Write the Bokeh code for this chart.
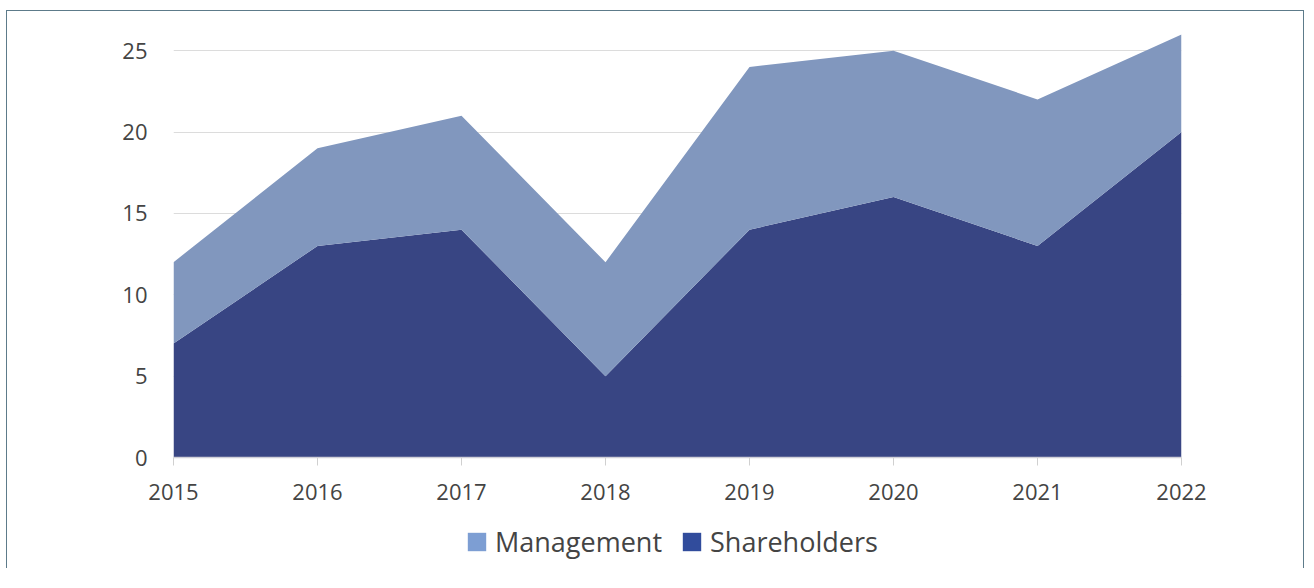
from bokeh.plotting import figure
from bokeh.layouts import column
from bokeh.models import Range1d, Legend, LegendItem, FixedTicker
from bokeh.embed import file_html
from bokeh.resources import INLINE
import numpy as np

years = [2015, 2016, 2017, 2018, 2019, 2020, 2021, 2022]
shareholders = [7, 13, 14, 5, 14, 16, 13, 20]
management = [5, 6, 7, 7, 10, 9, 9, 6]
y_ticks = [0, 5, 10, 15, 20, 25]
series_names = ["Management", "Shareholders"]
legend_colors = ["#7d9ed3", "#314c9c"]

sh = np.array(shareholders, dtype=float)
tot = sh + np.array(management, dtype=float)

FONT = "Open Sans"
p = figure(width=1296, height=504, output_backend="svg", toolbar_location=None,
           x_range=Range1d(2015, 2022), y_range=Range1d(0, 26.3),
           min_border_left=166, min_border_right=122, min_border_top=18, min_border_bottom=58)
p.outline_line_color = None
p.background_fill_color = "white"

p.varea(x=years, y1=0, y2=sh, fill_color="#384583", fill_alpha=1.0)
p.varea(x=years, y1=sh, y2=tot, fill_color="#8197be", fill_alpha=1.0)

p.xgrid.grid_line_color = None
p.ygrid.grid_line_color = "#dcdcdc"
p.ygrid.grid_line_width = 1
p.ygrid.ticker = FixedTicker(ticks=y_ticks)

p.xaxis.ticker = FixedTicker(ticks=years)
p.xaxis.axis_line_color = "#d0d0d8"
p.xaxis.axis_line_width = 1.5
p.xaxis.major_tick_line_color = "#d0d0d0"
p.xaxis.major_tick_out = 8
p.xaxis.major_tick_in = 0
p.xaxis.minor_tick_line_color = None
p.xaxis.major_label_text_font = FONT
p.xaxis.major_label_text_font_size = "22px"
p.xaxis.major_label_text_color = "#444444"
p.xaxis.major_label_standoff = 18

p.yaxis.ticker = FixedTicker(ticks=y_ticks)
p.yaxis.axis_line_color = None
p.yaxis.major_tick_line_color = None
p.yaxis.minor_tick_line_color = None
p.yaxis.major_label_text_font = FONT
p.yaxis.major_label_text_font_size = "22px"
p.yaxis.major_label_text_color = "#444444"
p.yaxis.major_label_standoff = 20

# legend strip
p2 = figure(width=1296, height=53, output_backend="svg", toolbar_location=None,
            x_axis_type=None, y_axis_type=None, x_range=Range1d(0, 1), y_range=Range1d(0, 1),
            min_border=0)
p2.outline_line_color = None
p2.xgrid.grid_line_color = None
p2.ygrid.grid_line_color = None
nan = [float("nan")]
items = []
for name, col in zip(series_names, legend_colors):
    r = p2.quad(left=nan, right=nan, bottom=nan, top=nan, fill_color=col, line_color=None)
    items.append(LegendItem(label=name, renderers=[r]))

legend = Legend(items=items, orientation="horizontal", location=(292, 8),
                label_text_font=FONT, label_text_font_size="27px", label_text_color="#444444",
                glyph_width=23, glyph_height=23, label_standoff=7, spacing=18,
                border_line_color=None, background_fill_alpha=0, padding=4, margin=0)
p2.add_layout(legend)

layout = column(p, p2, spacing=0)
layout.styles = {"border-top": "1.5px solid #5d7b8a", "border-left": "1.5px solid #5d7b8a",
                 "border-right": "1.5px solid #5d7b8a", "margin-left": "6px", "margin-top": "10px"}

open("out.html", "w").write(file_html(layout, INLINE))
